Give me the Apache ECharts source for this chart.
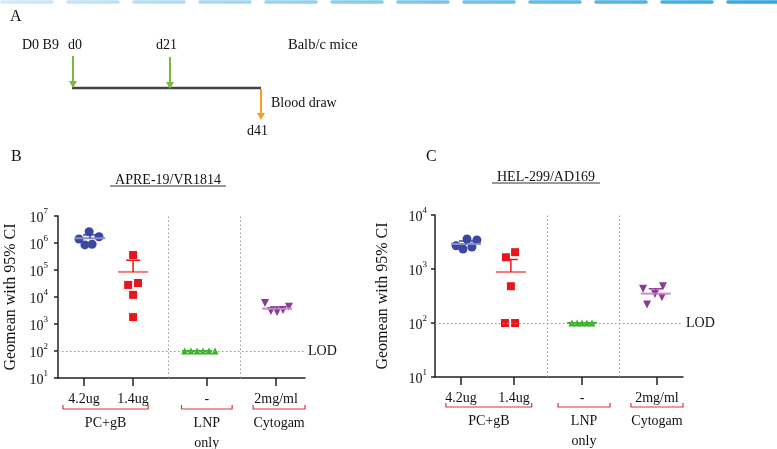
<!DOCTYPE html>
<html><head><meta charset="utf-8">
<script src="https://cdn.jsdelivr.net/npm/echarts@6/dist/echarts.min.js"></script>
<style>html,body{margin:0;padding:0;background:#fff}#c{width:777px;height:449px}</style>
</head><body><div id="c"></div>
<script>
// ---------- DATA ----------
const doseLabels = ['4.2ug', '1.4ug', '-', '2mg/ml'];
const groupNames = ['PC+gB', 'LNP\nonly', 'Cytogam'];
const lodValue = 100;
// Panel B : APRE-19/VR1814
const titleB = 'APRE-19/VR1814';
const bPc42 = [1.4e6, 2.6e6, 1.7e6, 0.85e6, 0.9e6];
const bPc14 = [3.6e5, 2.8e4, 3.3e4, 1.2e4, 1.8e3];
const bLnp = [100, 100, 100, 100, 100, 100];
const bCyto = [6000, 3000, 2800, 3300, 4400];
const bMean = [1.5e6, 8.5e4, 100, 3700];
const bUpper = [2.0e6, 2.3e5, null, 4300];
// Panel C : HEL-299/AD169
const titleC = 'HEL-299/AD169';
const cPc42 = [2700, 3600, 3450, 2350, 2550];
const cPc14 = [1650, 2050, 480, 100, 100];
const cLnp = [100, 100, 100, 100, 100];
const cCyto = [430, 480, 345, 300, 220];
const cMean = [2900, 880, 100, 350];
const cUpper = [3300, 1500, null, 430];

// ---------- LAYOUT / STYLE ----------
const FONT = '"Liberation Serif","DejaVu Serif",serif';
const colors = ['#3b47a1', '#e8161c', '#3db12e', '#8d3a96'];
const meanColors = ['#8890cc', '#f27a7a', '#3db12e', '#c48ccb'];
const symbols = ['circle', 'rect', 'triangle', 'triangle'];
const symbolSizes = [9, 8, 7, 8];
const symbolRot = [0, 0, 0, 180];

const panels = [
  {
    title: titleB, grid: {left: 58, top: 216, width: 247, height: 162}, ymax: 1e7,
    ticks: [10.5, 30.4, 60.3, 88.3], dividers: [44.5, 73.7],
    brackets: [[2, 36.5], [50, 70.5], [79, 100]],
    series: [bPc42, bPc14, bLnp, bCyto], mean: bMean, upper: bUpper,
    jitter: [[-2, 2.1, 6.1, 0.4, 3.3], [0, -2, 2, 0, 0], [-9, -6.5, -4, -1.6, 0.8, 3.3], [-4.5, -2.1, 0.4, 2.8, 5.2]],
    meanX: [2.5, 0, -4, 0.4], nameGap: 39, labelMargin: 10,
    letter: {text: 'B', x: 11, y: 157}, titleY: 180, brk: 409
  },
  {
    title: titleC, grid: {left: 435, top: 215, width: 248, height: 162}, ymax: 1e4,
    ticks: [10.5, 31.9, 59.3, 89.5], dividers: [45.2, 74.2],
    brackets: [[4.4, 39], [49.6, 70.6], [79, 100]],
    series: [cPc42, cPc14, cLnp, cCyto], mean: cMean, upper: cUpper,
    jitter: [[-2, 2.4, 6.4, 0.8, 4.4], [-3.3, 0.4, -1.3, -3.7, 0.4], [-4.1, -2, 0, 2, 4], [-5.6, 2.4, -0.8, 2, -4]],
    meanX: [2, -1.3, 0, -0.5], nameGap: 44, labelMargin: 8,
    letter: {text: 'C', x: 426, y: 157}, titleY: 177, brk: 407
  }
];

const grids = [], xAxes = [], yAxes = [], series = [];
const dotted = [1.5, 2.5];

panels.forEach((p, pi) => {
  grids.push(Object.assign({containLabel: false}, p.grid));
  xAxes.push({
    type: 'value', gridIndex: pi, min: 0, max: 100,
    axisLine: {lineStyle: {color: '#222', width: 1.5}},
    splitLine: {show: false},
    axisTick: {show: true, length: 8, customValues: p.ticks, lineStyle: {color: '#222', width: 1.5}},
    axisLabel: {
      customValues: p.ticks, margin: 14, color: '#111', fontFamily: FONT, fontSize: 14,
      formatter: v => { const i = p.ticks.indexOf(v); return i >= 0 ? doseLabels[i] : ''; }
    }
  });
  yAxes.push({
    type: 'log', logBase: 10, gridIndex: pi, min: 10, max: p.ymax,
    name: 'Geomean with 95% CI', nameLocation: 'middle', nameGap: p.nameGap, nameRotate: 90,
    nameTextStyle: {color: '#111', fontFamily: FONT, fontSize: 16},
    axisLine: {show: true, lineStyle: {color: '#222', width: 1.5}},
    axisTick: {show: true, length: 4, lineStyle: {color: '#222', width: 1.5}},
    splitLine: {show: false},
    axisLabel: {
      margin: p.labelMargin,
      formatter: v => '{b|10}{s|' + Math.round(Math.log10(v)) + '}',
      rich: {
        b: {fontFamily: FONT, fontSize: 14, color: '#111', lineHeight: 18, verticalAlign: 'bottom'},
        s: {fontFamily: FONT, fontSize: 9, color: '#111', lineHeight: 18, verticalAlign: 'top'}
      }
    }
  });
  p.series.forEach((vals, gi) => {
    const s = {
      type: 'scatter', xAxisIndex: pi, yAxisIndex: pi,
      symbol: symbols[gi], symbolSize: symbolSizes[gi], symbolRotate: symbolRot[gi],
      itemStyle: {color: colors[gi], opacity: 1},
      data: vals.map((v, i) => [p.ticks[gi] + p.jitter[gi][i], v]),
      z: 3
    };
    if (gi === 2) {
      s.markLine = {
        silent: true, symbol: 'none', animation: false,
        lineStyle: {color: '#999', width: 1, type: dotted},
        data: [
          {yAxis: lodValue, label: {show: true, position: 'end', formatter: 'LOD', color: '#111', fontFamily: FONT, fontSize: 14, distance: 3}},
          {xAxis: p.dividers[0], label: {show: false}},
          {xAxis: p.dividers[1], label: {show: false}}
        ]
      };
    }
    series.push(s);
  });
  // mean + upper error bar
  series.push({
    type: 'custom', xAxisIndex: pi, yAxisIndex: pi, z: 4,
    data: p.mean.map((m, gi) => [p.ticks[gi] + p.meanX[gi], m, p.upper[gi] == null ? m : p.upper[gi], gi]),
    renderItem: (params, api) => {
      const gi = api.value(3);
      const c = api.coord([api.value(0), api.value(1)]);
      const u = api.coord([api.value(0), api.value(2)]);
      const children = [
        {type: 'line', shape: {x1: c[0] - 15, y1: c[1], x2: c[0] + 15, y2: c[1]}, style: {stroke: meanColors[gi], lineWidth: 2}}
      ];
      if (Math.abs(u[1] - c[1]) > 0.5) {
        children.push({type: 'line', shape: {x1: c[0], y1: c[1], x2: c[0], y2: u[1]}, style: {stroke: colors[gi], lineWidth: 1.5}});
        children.push({type: 'line', shape: {x1: c[0] - 7, y1: u[1], x2: c[0] + 7, y2: u[1]}, style: {stroke: colors[gi], lineWidth: 1.5}});
      }
      return {type: 'group', children};
    }
  });
});

const chart = echarts.init(document.getElementById('c'), null, {renderer: 'canvas'});
chart.setOption({
  animation: false,
  backgroundColor: '#fff',
  grid: grids, xAxis: xAxes, yAxis: yAxes, series: series
});

// ---------- decorations ----------
const T = (text, x, y, opts) => ({type: 'text', x, y, silent: true,
  style: Object.assign({text, fill: '#111', font: '14px ' + FONT, textVerticalAlign: 'middle'}, opts || {})});
const L = (x1, y1, x2, y2, stroke, w, extra) => ({type: 'line', silent: true,
  shape: {x1, y1, x2, y2}, style: Object.assign({stroke, lineWidth: w}, extra || {})});
const head = (x, y, color) => ({type: 'polygon', silent: true,
  shape: {points: [[x - 4, y - 7], [x + 4, y - 7], [x, y]]}, style: {fill: color}});

const green = '#7cb83f', orange = '#f5a11b';
const g = [];
// top dashed gradient band
g.push(L(2, 2, 777, 2, new echarts.graphic.LinearGradient(0, 0, 1, 0, [
  {offset: 0, color: '#d3ebf9'}, {offset: 1, color: '#34a5dd'}]), 3.5, {lineDash: [50, 16], lineCap: 'round'}));
// panel A
g.push(T('A', 10, 17, {font: '16px ' + FONT}));
g.push(T('D0 B9', 22, 45));
g.push(T('d0', 68, 45));
g.push(T('d21', 156, 45));
g.push(T('Balb/c mice', 288, 45, {font: '14.5px ' + FONT}));
g.push(L(72, 88, 261, 88, '#444', 2.5));
g.push(L(73, 56, 73, 82, green, 2)); g.push(head(73, 88, green));
g.push(L(170, 57, 170, 83, green, 2)); g.push(head(170, 89, green));
g.push(L(261, 89, 261, 113, orange, 2)); g.push(head(261, 120, orange));
g.push(T('Blood draw', 271, 103));
g.push(T('d41', 247, 131));

panels.forEach((p, pi) => {
  g.push(T(p.letter.text, p.letter.x, p.letter.y, {font: '16px ' + FONT}));
  g.push({type: 'text', silent: true, x: pi === 0 ? 168 : 546, y: p.titleY,
    style: {text: p.title, fill: '#111', font: '14px ' + FONT, textAlign: 'center', textVerticalAlign: 'middle'}});
  const uw = pi === 0 ? [110, 226] : [492, 600];
  g.push(L(uw[0], p.titleY + 6, uw[1], p.titleY + 6, '#333', 1));
  p.brackets.forEach((b, bi) => {
    const x1 = chart.convertToPixel({xAxisIndex: pi}, b[0]);
    const x2 = chart.convertToPixel({xAxisIndex: pi}, b[1]);
    const y = p.brk;
    g.push({type: 'polyline', silent: true,
      shape: {points: [[x1, y - 4], [x1, y], [x2, y], [x2, y - 4]]},
      style: {stroke: '#e0303a', lineWidth: 1.2, fill: null}});
    const lines = groupNames[bi].split('\n');
    lines.forEach((ln, li) => {
      g.push({type: 'text', silent: true, x: (x1 + x2) / 2, y: y + 14 + li * 20,
        style: {text: ln, fill: '#111', font: '14px ' + FONT, textAlign: 'center', textVerticalAlign: 'middle'}});
    });
  });
});
chart.setOption({graphic: {elements: g}});
</script></body></html>
